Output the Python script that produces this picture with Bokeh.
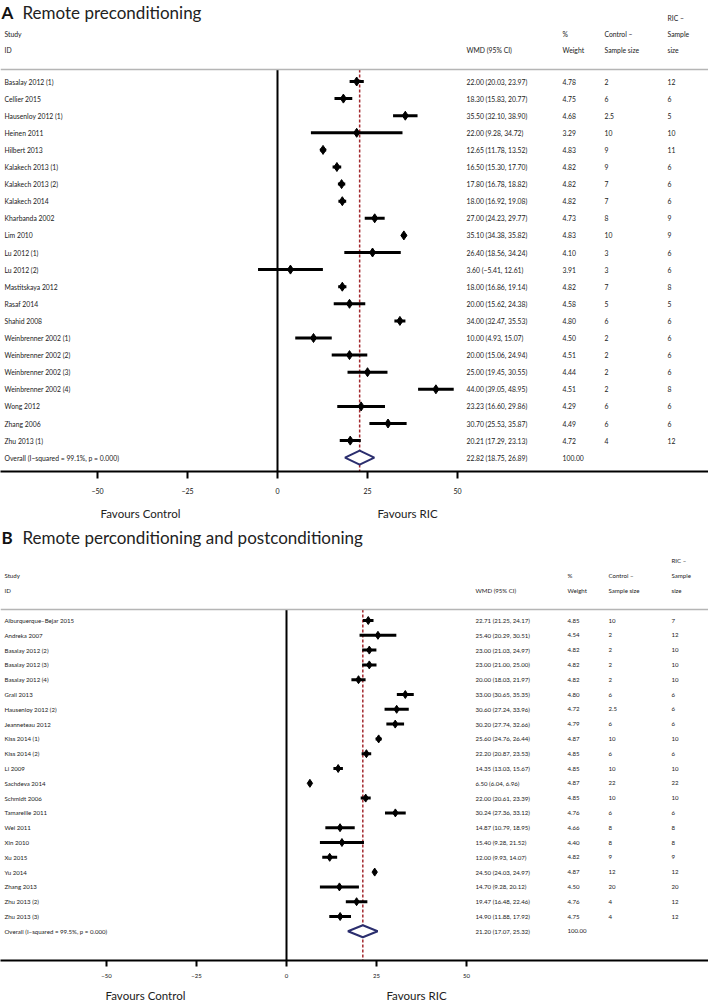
from bokeh.plotting import figure
from bokeh.models import ColumnDataSource, Range1d, LinearAxis, FixedTicker, Span
from bokeh.layouts import column
from bokeh.embed import file_html
from bokeh.resources import INLINE
from bokeh.core.properties import value

# ---------------- data: panel A ----------------
title_a = "Remote preconditioning"
studies_a = ["Basalay 2012 (1)", "Cellier 2015", "Hausenloy 2012 (1)", "Heinen 2011",
             "Hilbert 2013", "Kalakech 2013 (1)", "Kalakech 2013 (2)", "Kalakech 2014",
             "Kharbanda 2002", "Lim 2010", "Lu 2012 (1)", "Lu 2012 (2)", "Mastitskaya 2012",
             "Rasaf 2014", "Shahid 2008", "Weinbrenner 2002 (1)", "Weinbrenner 2002 (2)",
             "Weinbrenner 2002 (3)", "Weinbrenner 2002 (4)", "Wong 2012", "Zhang 2006",
             "Zhu 2013 (1)"]
wmd_a = [22.00, 18.30, 35.50, 22.00, 12.65, 16.50, 17.80, 18.00, 27.00, 35.10, 26.40,
         3.60, 18.00, 20.00, 34.00, 10.00, 20.00, 25.00, 44.00, 23.23, 30.70, 20.21]
lo_a = [20.03, 15.83, 32.10, 9.28, 11.78, 15.30, 16.78, 16.92, 24.23, 34.38, 18.56,
        -5.41, 16.86, 15.62, 32.47, 4.93, 15.06, 19.45, 39.05, 16.60, 25.53, 17.29]
hi_a = [23.97, 20.77, 38.90, 34.72, 13.52, 17.70, 18.82, 19.08, 29.77, 35.82, 34.24,
        12.61, 19.14, 24.38, 35.53, 15.07, 24.94, 30.55, 48.95, 29.86, 35.87, 23.13]
weight_a = [4.78, 4.75, 4.68, 3.29, 4.83, 4.82, 4.82, 4.82, 4.73, 4.83, 4.10, 3.91, 4.82,
            4.58, 4.80, 4.50, 4.51, 4.44, 4.51, 4.29, 4.49, 4.72]
ctrl_a = ["2", "6", "2.5", "10", "9", "9", "7", "7", "8", "10", "3", "3", "7", "5", "6",
          "2", "2", "2", "2", "6", "6", "4"]
ric_a = ["12", "6", "5", "10", "11", "6", "6", "6", "9", "9", "6", "6", "8", "5", "6",
         "6", "6", "6", "8", "6", "6", "12"]
overall_a = [22.82, 18.75, 26.89]
i2_a = "99.1"

# ---------------- data: panel B ----------------
title_b = "Remote perconditioning and postconditioning"
studies_b = ["Alburquerque−Bejar 2015", "Andreka 2007", "Basalay 2012 (2)", "Basalay 2012 (3)",
             "Basalay 2012 (4)", "Grall 2013", "Hausenloy 2012 (2)", "Jeanneteau 2012",
             "Kiss 2014 (1)", "Kiss 2014 (2)", "Li 2009", "Sachdeva 2014", "Schmidt 2006",
             "Tamareille 2011", "Wei 2011", "Xin 2010", "Xu 2015", "Yu 2014", "Zhang 2013",
             "Zhu 2013 (2)", "Zhu 2013 (3)"]
wmd_b = [22.71, 25.40, 23.00, 23.00, 20.00, 33.00, 30.60, 30.20, 25.60, 22.20, 14.35,
         6.50, 22.00, 30.24, 14.87, 15.40, 12.00, 24.50, 14.70, 19.47, 14.90]
lo_b = [21.25, 20.29, 21.03, 21.00, 18.03, 30.65, 27.24, 27.74, 24.76, 20.87, 13.03,
        6.04, 20.61, 27.36, 10.79, 9.28, 9.93, 24.03, 9.28, 16.48, 11.88]
hi_b = [24.17, 30.51, 24.97, 25.00, 21.97, 35.35, 33.96, 32.66, 26.44, 23.53, 15.67,
        6.96, 23.39, 33.12, 18.95, 21.52, 14.07, 24.97, 20.12, 22.46, 17.92]
weight_b = [4.85, 4.54, 4.82, 4.82, 4.82, 4.80, 4.72, 4.79, 4.87, 4.85, 4.85, 4.87, 4.85,
            4.76, 4.66, 4.40, 4.82, 4.87, 4.50, 4.76, 4.75]
ctrl_b = ["10", "2", "2", "2", "2", "6", "2.5", "6", "10", "6", "10", "22", "10", "6",
          "8", "8", "9", "12", "20", "4", "4"]
ric_b = ["7", "12", "10", "10", "10", "6", "6", "6", "10", "6", "10", "22", "10", "6",
         "8", "8", "9", "12", "20", "12", "12"]
overall_b = [21.20, 17.07, 25.32]
i2_b = "99.5"

tick_values = [-50, -25, 0, 25, 50]
fav_labels = ["Favours Control", "Favours RIC"]

FONT = "Lato"
PX = 3.6  # pixels per WMD unit
NAVY = "#2b2e6e"
RED = "#a3272d"


def fmt(v):
    return f"{v:.2f}".replace("-", "−")


def panel(letter, title, studies, wmd, lo, hi, weight, ctrl, ric, overall, i2, L):
    zero = L["zero"]
    row0, d = L["row0"], L["d"]

    def xd(px):
        return (px - zero) / PX

    def yr(py):
        return (py - row0) / d

    frame_h = L["axis_y"] - L["top"]
    p = figure(frame_width=708, frame_height=frame_h, output_backend="svg",
               toolbar_location=None, y_axis_location=None,
               x_range=Range1d(xd(8), xd(716)),
               y_range=Range1d(yr(L["axis_y"]), yr(L["top"])),
               min_border_left=0, min_border_right=0, min_border_top=0,
               min_border_bottom=L["bottom"] - L["axis_y"])
    p.outline_line_color = None
    p.xgrid.visible = False
    p.ygrid.visible = False
    p.background_fill_color = "white"
    p.border_fill_color = "white"

    n = len(studies)
    rows = list(range(n))

    # header rule
    p.add_layout(Span(location=yr(L["gray_y"]), dimension="width",
                      line_color="#b5b5b5", line_width=1.5))
    # zero line
    p.segment(x0=[0], y0=[yr(L["gray_y"])], x1=[0], y1=[yr(L["axis_y"])],
              line_color="black", line_width=2)
    # overall dashed line
    p.segment(x0=[overall[0]], y0=[yr(L["gray_y"])], x1=[overall[0]], y1=[yr(L["axis_y"])],
              line_color=RED, line_width=1.5, line_dash="3 2")

    src = ColumnDataSource(dict(y=rows, wmd=wmd, lo=lo, hi=hi))
    p.segment(x0="lo", y0="y", x1="hi", y1="y", source=src, line_color="black",
              line_width=3)
    p.scatter(x="wmd", y="y", source=src, marker="diamond", size=L["msize"],
              color="black")

    h = L["dia_h"] / d
    p.patch(x=[overall[1], overall[0], overall[2], overall[0]],
            y=[n, n - h, n, n + h], fill_color="white", line_color=NAVY, line_width=2)

    fs = L["fs"]
    labels = studies + [f"Overall  (I−squared = {i2}%, p = 0.000)"]
    wtxt = [f"{fmt(a)} ({fmt(b)}, {fmt(c)})" for a, b, c in zip(wmd, lo, hi)]
    wtxt.append(f"{fmt(overall[0])} ({fmt(overall[1])}, {fmt(overall[2])})")
    wgt = [f"{w:.2f}" for w in weight] + ["100.00"]
    c0, c1, c2, c3 = L["cols"]
    tx, ty, tt = [], [], []
    for i, s in enumerate(labels):
        tx += [xd(12), xd(c0), xd(c1)]
        ty += [i, i, i]
        tt += [s, wtxt[i], wgt[i]]
    for i in range(n):
        tx += [xd(c2), xd(c3)]
        ty += [i, i]
        tt += [ctrl[i], ric[i]]
    h1, h2, h3 = L["head"]
    heads = [(12, h2, "Study"), (12, h3, "ID"), (c0, h3, "WMD (95% CI)"),
             (c1, h2, "%"), (c1, h3, "Weight"), (c2, h2, "Control –"),
             (c2, h3, "Sample size"), (c3, h1, "RIC –"), (c3, h2, "Sample"),
             (c3, h3, "size")]
    for hx, hy, ht in heads:
        tx.append(xd(hx))
        ty.append(yr(hy))
        tt.append(ht)
    p.text(x=tx, y=ty, text=tt, text_font=value(FONT), text_font_size=fs,
           text_baseline="middle", text_align="left", text_color="#1a1a1a")

    # title
    p.text(x=[xd(9)], y=[yr(L["title_y"])], text=[letter], text_font=value(FONT),
           text_font_size="17px", text_font_style="bold", text_baseline="middle",
           text_color="#111111")
    p.text(x=[xd(30)], y=[yr(L["title_y"])], text=[title], text_font=value(FONT),
           text_font_size="17px", text_baseline="middle", text_color="#222222")

    ax = p.xaxis[0]
    ax.ticker = FixedTicker(ticks=tick_values)
    ax.major_label_overrides = {t: (str(t).replace("-", "−")) for t in tick_values}
    ax.axis_line_width = 2
    ax.axis_line_color = "black"
    ax.major_tick_line_width = 2
    ax.major_tick_in = 0
    ax.major_tick_out = L["tick_out"]
    ax.minor_tick_line_color = None
    ax.major_label_standoff = L["standoff"]
    ax.major_label_text_font = FONT
    ax.major_label_text_font_size = L["tick_fs"]
    ax.major_label_text_color = "#111111"

    fpos = [round(xd(L["fav"][0]), 2), round(xd(L["fav"][1]), 2)]
    fav = LinearAxis(ticker=FixedTicker(ticks=fpos),
                     major_label_overrides={fpos[0]: fav_labels[0], fpos[1]: fav_labels[1]},
                     axis_line_color=None, major_tick_line_color=None,
                     minor_tick_line_color=None, major_label_standoff=L["fav_standoff"],
                     major_label_text_font=FONT, major_label_text_font_size="11.5px",
                     major_label_text_color="#222222")
    p.add_layout(fav, "below")
    return p


LA = dict(top=8, axis_y=479, bottom=524, row0=89, d=17.1, zero=285, title_y=20,
          head=(25, 41, 57), gray_y=77, cols=(474, 570, 612, 675), fs="6.8px",
          tick_fs="7px", tick_out=7, standoff=9, fav=(148, 415), fav_standoff=4,
          dia_h=7, msize=9)
LB = dict(top=524, axis_y=962, bottom=999, row0=622, d=14.8, zero=294, title_y=539,
          head=(562, 577, 592), gray_y=611, cols=(483, 575, 616, 679), fs="6.1px",
          tick_fs="6px", tick_out=6, standoff=7, fav=(153, 424), fav_standoff=2,
          dia_h=6, msize=8)

pa = panel("A", title_a, studies_a, wmd_a, lo_a, hi_a, weight_a, ctrl_a, ric_a,
           overall_a, i2_a, LA)
pb = panel("B", title_b, studies_b, wmd_b, lo_b, hi_b, weight_b, ctrl_b, ric_b,
           overall_b, i2_b, LB)

layout = column(pa, pb, spacing=0)
open("out.html", "w").write(file_html(layout, INLINE))
